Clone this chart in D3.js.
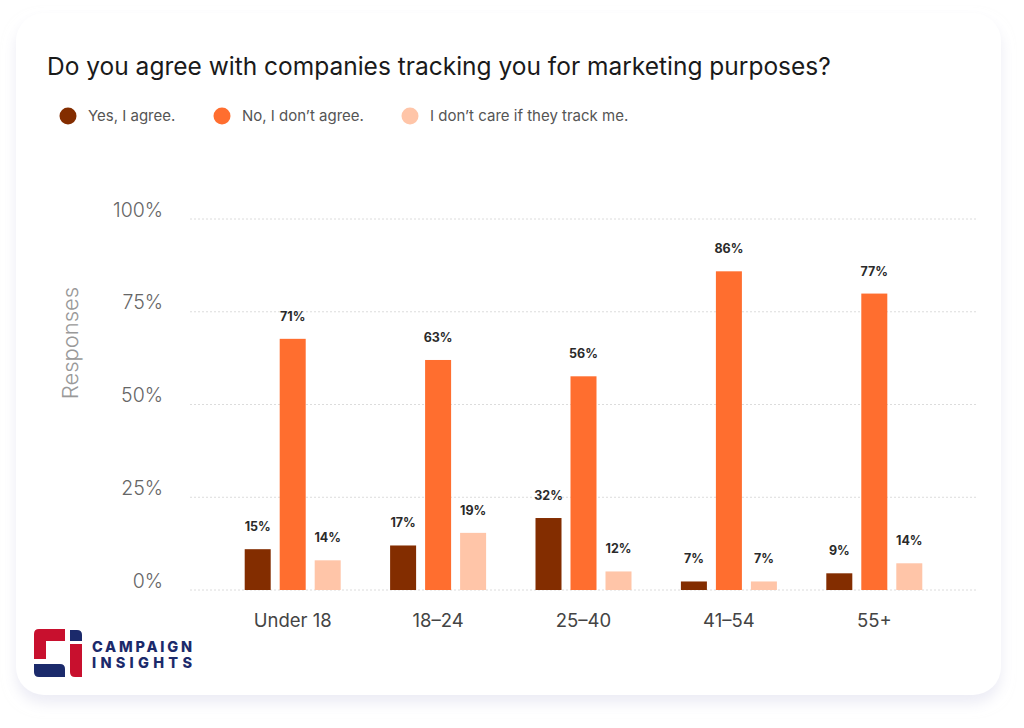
<!DOCTYPE html>
<html>
<head>
<meta charset="utf-8">
<script src="https://cdn.jsdelivr.net/npm/d3@7"></script>
<style>
  body { margin: 0; background: #fff; }
  svg { display: block; font-family: Inter, "Open Sans", sans-serif; }
</style>
</head>
<body>
<script>
// data
var ageGroups = ["Under 18", "18\u201324", "25\u201340", "41\u201354", "55+"];
var seriesNames = ["Yes, I agree.", "No, I don\u2019t agree.", "I don\u2019t care if they track me."];
var seriesKeys = ["yes", "no", "dontCare"];
// bar heights as drawn (percent)
var yesBars = [11, 12, 19.4, 2.3, 4.5];
var noBars = [67.7, 62, 57.6, 85.9, 79.9];
var dontCareBars = [8, 15.4, 5, 2.3, 7.2];
// printed labels above the bars
var yesLabels = ["15%", "17%", "32%", "7%", "9%"];
var noLabels = ["71%", "63%", "56%", "86%", "77%"];
var dontCareLabels = ["14%", "19%", "12%", "7%", "14%"];
var yTicks = [0, 25, 50, 75, 100];

var colors = ["#832d00", "#ff6e2f", "#ffc5a8"];

var width = 1024, height = 728;

var rows = ageGroups.map(function(g, i) {
    return {
        group: g,
        values: [
            {key: "yes", value: yesBars[i], label: yesLabels[i]},
            {key: "no", value: noBars[i], label: noLabels[i]},
            {key: "dontCare", value: dontCareBars[i], label: dontCareLabels[i]}
        ]
    };
});

var svg = d3.select("body").append("svg")
    .attr("width", width)
    .attr("height", height);

// card with soft shadow
var defs = svg.append("defs");
var f = defs.append("filter").attr("id", "shadow")
    .attr("x", "-5%").attr("y", "-5%").attr("width", "110%").attr("height", "115%");
f.append("feDropShadow")
    .attr("dx", 0).attr("dy", 8)
    .attr("stdDeviation", 7)
    .attr("flood-color", "#dcdcec")
    .attr("flood-opacity", 0.55);

svg.append("rect")
    .attr("x", 16).attr("y", 13)
    .attr("width", 985).attr("height", 682)
    .attr("rx", 28)
    .attr("fill", "#fff")
    .attr("filter", "url(#shadow)");

// title
svg.append("text")
    .attr("x", 47).attr("y", 75)
    .attr("font-size", 24.5)
    .attr("fill", "#1a1a1a")
    .text("Do you agree with companies tracking you for marketing purposes?");

// legend
var legendX = [68, 222, 410];
var legend = svg.append("g").selectAll("g")
    .data(seriesNames)
    .enter().append("g")
    .attr("transform", function(d, i) { return "translate(" + legendX[i] + ",116)"; });
legend.append("circle")
    .attr("r", 8.5)
    .attr("fill", function(d, i) { return colors[i]; });
legend.append("text")
    .attr("x", 20).attr("y", 5)
    .attr("font-size", 15)
    .attr("fill", "#555")
    .text(function(d) { return d; });

// scales
var y = d3.scaleLinear().domain([0, 100]).range([590, 219]);
var x0 = d3.scaleBand().domain(ageGroups).range([220, 947]).padding(0);
var x1 = d3.scaleBand().domain(seriesKeys).range([-48, 48]).paddingInner(0.257).paddingOuter(0);
var color = d3.scaleOrdinal().domain(seriesKeys).range(colors);

// gridlines
svg.append("g").selectAll("line")
    .data(yTicks)
    .enter().append("line")
    .attr("x1", 190).attr("x2", 977)
    .attr("y1", function(d) { return y(d); })
    .attr("y2", function(d) { return y(d); })
    .attr("stroke", "#dcdcdc")
    .attr("stroke-width", 1)
    .attr("stroke-dasharray", "2,2");

// y axis
var yAxis = svg.append("g")
    .attr("transform", "translate(163,0)")
    .call(d3.axisLeft(y).tickValues(yTicks).tickSize(0).tickPadding(0)
        .tickFormat(function(d) { return d + "%"; }));
yAxis.select(".domain").remove();
yAxis.selectAll("text")
    .attr("font-family", "Inter, sans-serif")
    .attr("font-size", 19.5)
    .attr("font-weight", 300)
    .attr("fill", "#666")
    .attr("dy", "-0.15em");

svg.append("text")
    .attr("transform", "translate(78,343) rotate(-90)")
    .attr("text-anchor", "middle")
    .attr("font-size", 22)
    .attr("font-weight", 300)
    .attr("fill", "#999")
    .text("Responses");

// x axis
var xAxis = svg.append("g")
    .attr("transform", "translate(0,600)")
    .call(d3.axisBottom(x0).tickSize(0).tickPadding(0));
xAxis.select(".domain").remove();
xAxis.selectAll("text")
    .attr("font-family", "Inter, sans-serif")
    .attr("font-size", 18.5)
    .attr("fill", "#444")
    .attr("dy", "1.45em");

// bars
var groups = svg.append("g").selectAll("g")
    .data(rows)
    .enter().append("g")
    .attr("transform", function(d) { return "translate(" + (x0(d.group) + x0.bandwidth() / 2) + ",0)"; });

groups.selectAll("rect")
    .data(function(d) { return d.values; })
    .enter().append("rect")
    .attr("x", function(d) { return x1(d.key); })
    .attr("y", function(d) { return y(d.value); })
    .attr("width", x1.bandwidth())
    .attr("height", function(d) { return y(0) - y(d.value); })
    .attr("fill", function(d) { return color(d.key); });

groups.selectAll("text")
    .data(function(d) { return d.values; })
    .enter().append("text")
    .attr("x", function(d) { return x1(d.key) + x1.bandwidth() / 2; })
    .attr("y", function(d) { return y(d.value) - 18; })
    .attr("text-anchor", "middle")
    .attr("font-size", 12.5)
    .attr("font-weight", 700)
    .attr("fill", "#2a2a2a")
    .text(function(d) { return d.label; });

// logo
var logo = svg.append("g");
logo.append("path")
    .attr("d", "M34,634 Q34,629 39,629 L65,629 L65,641 L46,641 L46,659 L34,659 Z")
    .attr("fill", "#c8102e");
logo.append("path")
    .attr("d", "M34,664 L60,664 Q65,664 65,669 L65,677 L39,677 Q34,677 34,672 Z")
    .attr("fill", "#1b2a6b");
logo.append("path")
    .attr("d", "M70,630 L77,630 Q82,630 82,635 L82,641 L70,641 Z")
    .attr("fill", "#1b2a6b");
logo.append("path")
    .attr("d", "M70,644 L82,644 L82,677 L75,677 Q70,677 70,672 Z")
    .attr("fill", "#c8102e");
logo.append("text")
    .attr("x", 92).attr("y", 652)
    .attr("font-size", 14.5)
    .attr("font-weight", 800)
    .attr("fill", "#1b2a6b")
    .attr("textLength", 100)
    .attr("lengthAdjust", "spacing")
    .text("CAMPAIGN");
logo.append("text")
    .attr("x", 92).attr("y", 668)
    .attr("font-size", 14.5)
    .attr("font-weight", 800)
    .attr("fill", "#1b2a6b")
    .attr("textLength", 100)
    .attr("lengthAdjust", "spacing")
    .text("INSIGHTS");
</script>
</body>
</html>
